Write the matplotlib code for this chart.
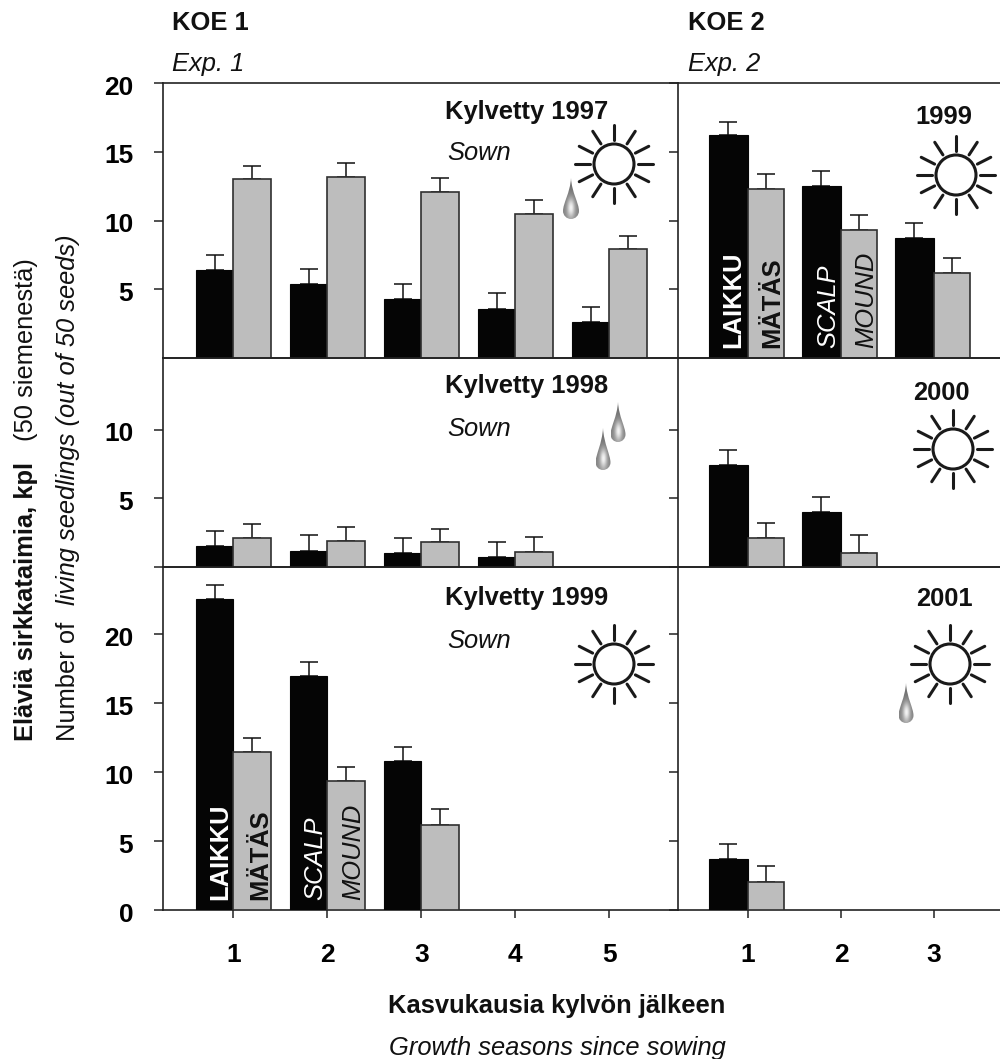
import numpy as np
import matplotlib
matplotlib.use("Agg")
import matplotlib.pyplot as plt
from matplotlib.patches import Circle, PathPatch
from matplotlib.path import Path
from matplotlib.transforms import ScaledTranslation

plt.rcParams['font.family'] = ['Liberation Sans', 'DejaVu Sans']

W, H = 1000, 1059
# ---- data ----
seasons_l = [1, 2, 3, 4, 5]
seasons_r = [1, 2, 3]
p1_scalp = [6.4, 5.4, 4.3, 3.6, 2.6]
p1_mound = [13.0, 13.2, 12.1, 10.5, 7.9]
p1_scalp_err = [1.1, 1.1, 1.1, 1.1, 1.1]
p1_mound_err = [1.0, 1.0, 1.0, 1.0, 1.0]
p2_scalp = [16.2, 12.5, 8.7]
p2_mound = [12.3, 9.3, 6.2]
p2_scalp_err = [1.0, 1.1, 1.1]
p2_mound_err = [1.1, 1.1, 1.1]
p3_scalp = [1.5, 1.2, 1.0, 0.7]
p3_mound = [2.1, 1.9, 1.8, 1.1]
p3_scalp_err = [1.1, 1.1, 1.1, 1.1]
p3_mound_err = [1.0, 1.0, 1.0, 1.1]
p4_scalp = [7.4, 4.0]
p4_mound = [2.1, 1.0]
p4_scalp_err = [1.1, 1.1]
p4_mound_err = [1.1, 1.3]
p5_scalp = [22.6, 17.0, 10.8]
p5_mound = [11.5, 9.4, 6.2]
p5_scalp_err = [1.0, 1.0, 1.0]
p5_mound_err = [1.0, 1.0, 1.1]
p6_scalp = [3.7]
p6_mound = [2.0]
p6_scalp_err = [1.1]
p6_mound_err = [1.2]

fig = plt.figure(figsize=(W / 100, H / 100), dpi=100, facecolor='white')

def mkax(x0, x1, y0, y1):
    return fig.add_axes([x0 / W, 1 - y1 / H, (x1 - x0) / W, (y1 - y0) / H])

XL, XM, XR = 163, 678, 1000
Y0, Y1, Y2, Y3 = 83, 358, 567, 910
LIML = (0.25, 5.73)
LIMR = (0.247, 3.71)
EDGE = '#303030'
GREY = '#bdbdbd'
TICKSZ = 19

def panel(ax, xs, black, grey, berr, gerr, ylim, yticks, ylabels, xlim, bw, gw):
    xs = np.asarray(xs[:len(black)], float)
    ax.bar(xs - bw, black, bw, align='edge', color='#050505', edgecolor='#050505', linewidth=0.8, zorder=3)
    ax.bar(xs, grey, gw, align='edge', color=GREY, edgecolor=EDGE, linewidth=1.2, zorder=3)
    ax.errorbar(xs - bw / 2, black, yerr=[np.zeros(len(xs)), berr], fmt='none', ecolor='#111111',
                elinewidth=1.1, capsize=6.2, capthick=1.1, zorder=2)
    ax.errorbar(xs + gw / 2, grey, yerr=[np.zeros(len(xs)), gerr], fmt='none', ecolor='#111111',
                elinewidth=1.1, capsize=6.2, capthick=1.1, zorder=2)
    ax.set_xlim(*xlim)
    ax.set_ylim(*ylim)
    ax.set_yticks(yticks)
    ax.set_yticklabels(ylabels, fontsize=TICKSZ, fontweight='bold')
    ax.tick_params(axis='y', length=6.5, width=1.1, pad=15, color='#222222')
    shift = ScaledTranslation(0, -2 / 100, fig.dpi_scale_trans)
    for lab in ax.get_yticklabels():
        lab.set_transform(lab.get_transform() + shift)
    ax.patch.set_alpha(0)
    ax.spines['right'].set_visible(False)
    for s in ax.spines.values():
        s.set_linewidth(1.2)
        s.set_color('#222222')

ticks_top = [5, 10, 15, 20]
ticks_mid = [0, 5, 10]
ticks_bot = [0, 5, 10, 15, 20]
ylim_top = (0, 20)
ylim_mid = (0, 15.2)
ylim_bot = (0, 24.9)
L = (LIML, 0.40, 0.40)
R = (LIMR, 0.42, 0.39)

a1 = mkax(XL, XM, Y0, Y1)
panel(a1, seasons_l, p1_scalp, p1_mound, p1_scalp_err, p1_mound_err, ylim_top,
      ticks_top, ['5', '10', '15', '20'], *L)
a2 = mkax(XM, XR, Y0, Y1)
panel(a2, seasons_r, p2_scalp, p2_mound, p2_scalp_err, p2_mound_err, ylim_top,
      ticks_top, ['', '', '', ''], *R)
a3 = mkax(XL, XM, Y1, Y2)
panel(a3, seasons_l, p3_scalp, p3_mound, p3_scalp_err, p3_mound_err, ylim_mid,
      ticks_mid, ['', '5', '10'], *L)
a4 = mkax(XM, XR, Y1, Y2)
panel(a4, seasons_r, p4_scalp, p4_mound, p4_scalp_err, p4_mound_err, ylim_mid,
      ticks_mid, ['', '', ''], *R)
a5 = mkax(XL, XM, Y2, Y3)
panel(a5, seasons_l, p5_scalp, p5_mound, p5_scalp_err, p5_mound_err, ylim_bot,
      ticks_bot, ['0', '5', '10', '15', '20'], *L)
a6 = mkax(XM, XR, Y2, Y3)
panel(a6, seasons_r, p6_scalp, p6_mound, p6_scalp_err, p6_mound_err, ylim_bot,
      ticks_bot, ['', '', '', '', ''], *R)

for a in (a1, a2, a3, a4):
    a.set_xticks([])
for a, xs in ((a5, seasons_l), (a6, seasons_r)):
    a.set_xticks(xs)
    a.set_xticklabels([str(v) for v in xs], fontsize=TICKSZ, fontweight='bold')
    a.tick_params(axis='x', length=6, width=1.1, pad=17.5, color='#222222')

# ---- overlay in pixel coordinates ----
ov = fig.add_axes([0, 0, 1, 1], zorder=10)
ov.set_xlim(0, W)
ov.set_ylim(H, 0)
ov.axis('off')
ov.patch.set_alpha(0)

def txt(x, y, s, size=18.4, weight='normal', style='normal', color='#111111', ha='left', va='center', rot=0):
    ov.text(x, y, s, fontsize=size, fontweight=weight, fontstyle=style, color=color,
            ha=ha, va=va, rotation=rot, rotation_mode='anchor')

txt(172, 22.5, 'KOE 1', weight='bold')
txt(688, 22.5, 'KOE 2', weight='bold')
txt(172, 63.5, 'Exp. 1', style='italic')
txt(688, 63.5, 'Exp. 2', style='italic')
txt(445, 111.5, 'Kylvetty 1997', weight='bold')
txt(447, 152.5, 'Sown', style='italic')
txt(445, 385.5, 'Kylvetty 1998', weight='bold')
txt(447, 428.5, 'Sown', style='italic')
txt(445, 597.5, 'Kylvetty 1999', weight='bold')
txt(447, 640.5, 'Sown', style='italic')
txt(915, 116.5, '1999', weight='bold')
txt(913, 393.5, '2000', weight='bold')
txt(916, 599, '2001', weight='bold')
txt(388, 1005.5, 'Kasvukausia kylvön jälkeen', weight='bold')
txt(389, 1048.5, 'Growth seasons since sowing', style='italic')

# vertical axis captions
txt(33, 741, 'Eläviä sirkkataimia, kpl', weight='bold', rot=90, va='baseline')
txt(33, 441, '(50 siemenestä)', rot=90, va='baseline')
txt(75, 741, 'Number of', rot=90, va='baseline')
txt(75, 605, 'living seedlings (out of 50 seeds)', style='italic', rot=90, va='baseline')

# labels inside the bars
for x, y, s, c, w, st in [
    (740, 348, 'LAIKKU', 'white', 'bold', 'normal'),
    (779, 348, 'MÄTÄS', '#111111', 'bold', 'normal'),
    (835, 348, 'SCALP', 'white', 'normal', 'italic'),
    (873, 348, 'MOUND', '#111111', 'normal', 'italic'),
    (227, 900, 'LAIKKU', 'white', 'bold', 'normal'),
    (267, 900, 'MÄTÄS', '#111111', 'bold', 'normal'),
    (322, 900, 'SCALP', 'white', 'normal', 'italic'),
    (360, 900, 'MOUND', '#111111', 'normal', 'italic'),
]:
    txt(x, y, s, color=c, weight=w, style=st, rot=90, va='baseline')

def sun(cx, cy):
    ov.add_patch(Circle((cx, cy), 20, fill=False, ec='#1a1a1a', lw=2.2))
    for d in [0, 27, 57, 90, 123, 153, 180, 207, 237, 270, 303, 333]:
        t = np.deg2rad(d)
        ov.plot([cx + 24 * np.cos(t), cx + 39 * np.cos(t)],
                [cy + 24 * np.sin(t), cy + 39 * np.sin(t)],
                color='#1a1a1a', lw=2.2, solid_capstyle='round')

def drop(cx, top, bottom, w):
    r = w / 2
    cy = bottom - r
    k = 0.55 * r
    verts = [(cx, top),
             (cx + 0.8, top + (cy - top) * 0.45), (cx + r, cy - r), (cx + r, cy),
             (cx + r, cy + k), (cx + k, cy + r), (cx, cy + r),
             (cx - k, cy + r), (cx - r, cy + k), (cx - r, cy),
             (cx - r, cy - r), (cx - 0.8, top + (cy - top) * 0.45), (cx, top)]
    codes = [Path.MOVETO] + [Path.CURVE4] * 12
    patch = PathPatch(Path(verts, codes), fc='none', ec='none')
    ov.add_patch(patch)
    yy, xx = np.mgrid[0:1:60j, -1:1:40j]
    g = 0.42 + 0.45 * np.exp(-(xx ** 2) / 0.25 - ((yy - 0.72) ** 2) / 0.06) + 0.12 * yy
    im = ov.imshow(g, cmap='gray', vmin=0, vmax=1, extent=(cx - r, cx + r, bottom, top),
                   aspect='auto', interpolation='bilinear')
    im.set_clip_path(patch)

for c in [(614, 164), (956, 175), (953, 449), (614, 664), (950, 664)]:
    sun(*c)
for d in [(571, 178, 219, 16), (618, 402, 442, 15), (603, 428, 470, 15), (906, 683, 723, 15)]:
    drop(*d)
ov.set_xlim(0, W)
ov.set_ylim(H, 0)

fig.savefig('out.png', dpi=100, facecolor='white')
